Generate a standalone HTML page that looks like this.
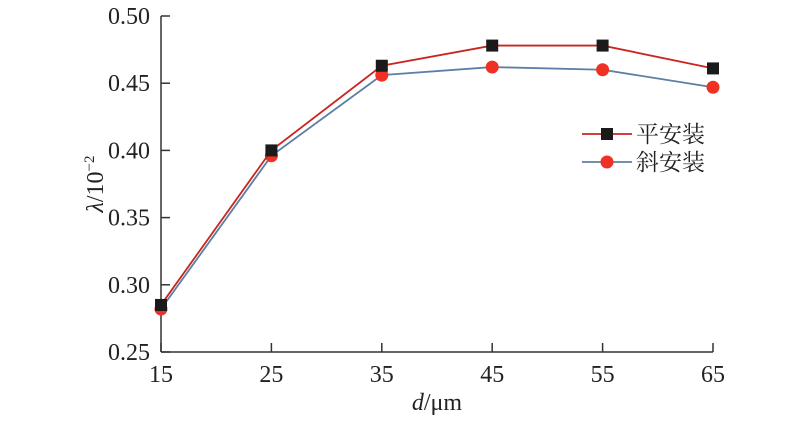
<!DOCTYPE html>
<html><head><meta charset="utf-8"><style>
body{margin:0;background:#fff;}
svg text{font-family:"Liberation Serif","Noto Serif CJK SC",serif;fill:#222;}
</style></head><body>
<svg id="chart" width="800" height="418" xmlns="http://www.w3.org/2000/svg"></svg>
<script>
const categories=[15,25,35,45,55,65];
const flatValues=[0.285,0.400,0.463,0.478,0.478,0.461];
const tiltValues=[0.282,0.396,0.456,0.462,0.460,0.447];
const yTicks=[0.25,0.30,0.35,0.40,0.45,0.50];
const seriesNames=["平安装","斜安装"];
const svg=document.getElementById('chart');
const NS='http://www.w3.org/2000/svg';
const x=v=>161+(v-15)*(713-161)/50;
const y=v=>352-(v-0.25)*(352-16)/0.25;
function mk(t,a,p){const e=document.createElementNS(NS,t);for(const k in a)e.setAttribute(k,a[k]);(p||svg).appendChild(e);return e;}
let e;
e=mk('line',{x1:161,y1:16,x2:161,y2:352,stroke:'#333','stroke-width':1.5});


e=mk('line',{x1:161,y1:352,x2:713,y2:352,stroke:'#333','stroke-width':1.5});


yTicks.forEach(t=>{
 e=mk('line',{x1:161,y1:y(t),x2:170,y2:y(t),stroke:'#333','stroke-width':1.5});
 
 
 e=mk('text',{x:150,y:y(t)+8,'text-anchor':'end','font-size':24});
 e.textContent=t.toFixed(2);
 
 
});
categories.forEach(c=>{
 e=mk('line',{x1:x(c),y1:343,x2:x(c),y2:352,stroke:'#333','stroke-width':1.5});
 
 
 e=mk('text',{x:x(c),y:382,'text-anchor':'middle','font-size':24});
 e.textContent=c;
 
 
});
e=mk('text',{x:437,y:410,'text-anchor':'middle','font-size':24});
e.innerHTML='<tspan font-style="italic">d</tspan>/μm';


e=mk('text',{x:0,y:0,'text-anchor':'middle','font-size':24,transform:'translate(103,184) rotate(-90)'});
e.innerHTML='<tspan font-style="italic">λ</tspan>/10<tspan dy="-9" font-size="15">−2</tspan>';


function series(vals,color,marker,name){
 e=mk('polyline',{points:vals.map((v,i)=>x(categories[i])+','+y(v)).join(' '),fill:'none',stroke:color,'stroke-width':1.8});
 
 
 vals.forEach((v,i)=>{
  if(marker==='sq') e=mk('rect',{x:x(categories[i])-6,y:y(v)-6,width:12,height:12,fill:'#1a1a1a'});
  else e=mk('circle',{cx:x(categories[i]),cy:y(v),r:6.5,fill:'#ee3124'});
  
  
 });
}
series(tiltValues,'#5b7fa6','ci','tilt');
series(flatValues,'#c8261e','sq','flat');
// legend
[[134,'#c8261e','sq'],[162,'#5b7fa6','ci']].forEach((r,i)=>{
 e=mk('line',{x1:582,y1:r[0],x2:632,y2:r[0],stroke:r[1],'stroke-width':1.8});
 
 
 if(r[2]==='sq') e=mk('rect',{x:601,y:r[0]-6,width:12,height:12,fill:'#1a1a1a'});
 else e=mk('circle',{cx:607,cy:r[0],r:6.5,fill:'#ee3124'});
 
 
 e=mk('text',{x:636,y:r[0]+8,'font-size':23});
 e.textContent=seriesNames[i];
 
 
});
</script>
</body></html>
